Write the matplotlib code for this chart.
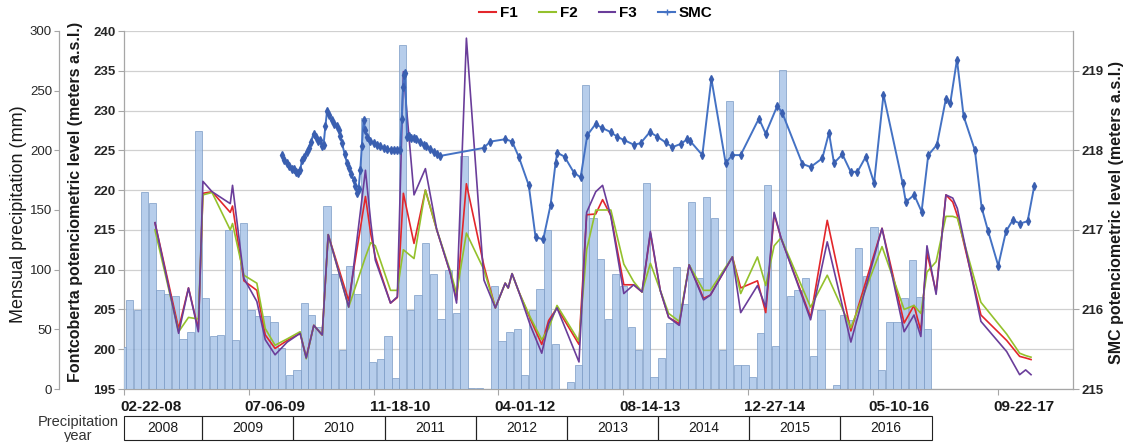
import numpy as np
import pandas as pd
import matplotlib
matplotlib.use("Agg")
import matplotlib.pyplot as plt
import matplotlib.dates as mdates
from matplotlib.lines import Line2D
from matplotlib.patches import Rectangle
from matplotlib.transforms import blended_transform_factory, ScaledTranslation

plt.rcParams["font.family"] = ["Liberation Sans", "DejaVu Sans"]

# ---------------------------------------------------------------- data
# Monthly precipitation (mm), one value per month from Feb 2008 to Dec 2016
precip_first_month = "2008-02"
precip_mm = [
    35, 75, 66, 165, 156, 83, 80, 78, 42, 48, 216,          # 2008 (Feb-Dec)
    76, 44, 45, 133, 41, 139, 66, 61, 61, 56, 34, 12,       # 2009
    16, 72, 62, 52, 153, 96, 33, 103, 80, 227, 23, 25,      # 2010
    44, 9, 288, 66, 79, 122, 96, 59, 100, 64, 195, 1,       # 2011
    1, 0, 86, 40, 48, 50, 12, 66, 84, 133, 38, 0,           # 2012
    6, 20, 255, 143, 109, 59, 96, 86, 52, 33, 173, 10,      # 2013
    26, 55, 102, 71, 157, 93, 161, 143, 33, 241, 20, 20,    # 2014
    10, 47, 171, 36, 267, 78, 83, 93, 28, 66, 0, 3,         # 2015
    62, 58, 118, 95, 136, 16, 56, 56, 76, 108, 77, 50,      # 2016
]

# Fontcoberta piezometers F1, F2, F3 (m a.s.l.), dates as decimal years
f_time = [
    2008.481, 2008.740, 2008.848, 2008.956, 2009.006, 2009.106, 2009.306, 2009.331,
    2009.456, 2009.598, 2009.690, 2009.798, 2009.931, 2010.073, 2010.140, 2010.223,
    2010.315, 2010.381, 2010.606, 2010.790, 2010.848, 2010.898, 2011.065, 2011.140,
    2011.206, 2011.323, 2011.448, 2011.573, 2011.723, 2011.790, 2011.898, 2012.090,
    2012.215, 2012.323, 2012.356, 2012.398, 2012.473, 2012.598, 2012.723, 2012.798,
    2012.890, 2013.131, 2013.215, 2013.315, 2013.390, 2013.481, 2013.623, 2013.731,
    2013.823, 2013.915, 2014.023, 2014.115, 2014.231, 2014.340, 2014.498, 2014.573,
    2014.815, 2014.906, 2015.090, 2015.181, 2015.273, 2015.348, 2015.673, 2015.856,
    2016.115, 2016.456, 2016.698, 2016.806, 2016.881, 2016.948, 2017.048, 2017.156,
    2017.231, 2017.281, 2017.540, 2017.823, 2017.965, 2018.031, 2018.090,
]
f1_level = [
    215.9, 202.6, 207.7, 202.5, 219.6, 219.8, 217.2, 218.0,
    208.6, 207.4, 201.8, 200.1, 201.1, 202.0, 199.0, 203.0,
    201.8, 214.4, 206.1, 219.2, 214.5, 211.6, 205.8, 206.5,
    219.6, 213.3, 220.0, 215.0, 209.5, 206.2, 220.8, 210.5,
    205.2, 208.3, 207.7, 209.5, 207.2, 203.8, 200.6, 203.6,
    205.2, 200.6, 216.9, 217.0, 218.8, 216.8, 208.1, 208.1,
    207.2, 214.6, 207.4, 204.0, 203.2, 210.6, 206.4, 206.8,
    211.6, 207.7, 208.6, 204.6, 217.0, 214.0, 204.0, 216.2,
    202.3, 215.2, 203.3, 205.5, 202.3, 212.1, 207.2, 219.4,
    218.5, 216.8, 204.3, 201.1, 199.1, 198.9, 198.7,
]
f2_level = [
    215.0, 202.2, 204.0, 203.8, 219.4, 219.7, 215.0, 215.8,
    209.3, 208.3, 202.6, 200.5, 201.3, 202.2, 198.8, 203.0,
    201.8, 214.4, 205.3, 211.6, 213.4, 213.0, 207.4, 207.4,
    212.5, 211.4, 220.0, 215.0, 209.8, 207.0, 214.6, 210.0,
    205.2, 208.3, 207.7, 209.5, 207.2, 204.0, 201.2, 202.6,
    205.5, 201.0, 212.5, 217.5, 217.5, 217.5, 210.7, 208.5,
    207.2, 210.8, 207.4, 204.5, 203.5, 210.6, 207.4, 207.4,
    211.6, 207.0, 211.6, 208.0, 213.0, 214.0, 205.3, 209.3,
    202.7, 212.9, 205.0, 205.5, 204.5, 209.7, 211.0, 216.7,
    216.7, 216.5, 205.9, 201.9, 199.5, 199.2, 199.0,
]
f3_level = [
    215.9, 202.0, 207.7, 202.2, 221.1, 219.8, 218.3, 220.6,
    208.9, 206.0, 201.2, 199.3, 200.9, 202.0, 198.9, 203.0,
    201.8, 214.4, 205.3, 222.5, 216.0, 211.2, 205.8, 206.6,
    234.9, 219.4, 222.7, 215.0, 209.5, 205.8, 239.1, 208.7,
    205.2, 208.3, 207.7, 209.5, 207.2, 203.0, 199.5, 203.2,
    205.2, 198.4, 217.2, 219.8, 220.6, 216.7, 207.0, 208.1,
    207.2, 214.8, 207.4, 204.0, 203.0, 210.6, 206.2, 206.8,
    211.6, 204.6, 208.0, 205.3, 217.2, 214.0, 203.7, 213.5,
    200.9, 215.2, 202.2, 204.3, 201.6, 213.0, 206.9, 219.4,
    219.0, 217.7, 203.5, 199.7, 196.8, 197.4, 196.8,
]

# SMC piezometer (m a.s.l.), dates as decimal years
# (near-daily logger record 2009-2011, then periodic readings)
smc_time = [
    2009.873, 2009.900, 2009.928, 2009.955, 2009.980, 2010.001, 2010.025, 2010.050,
    2010.074, 2010.093, 2010.120, 2010.145, 2010.166, 2010.190, 2010.220, 2010.245,
    2010.270, 2010.294, 2010.312, 2010.330, 2010.350, 2010.368, 2010.395, 2010.422,
    2010.450, 2010.475, 2010.495, 2010.515, 2010.532, 2010.560, 2010.587, 2010.610,
    2010.635, 2010.660, 2010.680, 2010.697, 2010.715, 2010.733, 2010.750, 2010.769,
    2010.790, 2010.807, 2010.840, 2010.879, 2010.920, 2010.955, 2010.989, 2011.030,
    2011.070, 2011.105, 2011.136, 2011.172, 2011.188, 2011.202, 2011.215, 2011.227,
    2011.246, 2011.270, 2011.295, 2011.318, 2011.350, 2011.385, 2011.428, 2011.460,
    2011.500, 2011.538, 2011.575, 2011.611,
    2012.087, 2012.160, 2012.325, 2012.399, 2012.471, 2012.581, 2012.655, 2012.739,
    2012.819, 2012.874, 2012.893, 2012.973, 2013.075, 2013.149, 2013.222, 2013.313,
    2013.387, 2013.478, 2013.551, 2013.624, 2013.734, 2013.807, 2013.909, 2013.991,
    2014.082, 2014.155, 2014.247, 2014.320, 2014.349, 2014.485, 2014.584, 2014.741,
    2014.814, 2014.905, 2015.106, 2015.180, 2015.308, 2015.363, 2015.583, 2015.674,
    2015.802, 2015.875, 2015.930, 2016.022, 2016.113, 2016.187, 2016.278, 2016.369,
    2016.472, 2016.681, 2016.717, 2016.808, 2016.889, 2016.962, 2017.057, 2017.156,
    2017.203, 2017.277, 2017.350, 2017.474, 2017.548, 2017.620, 2017.730, 2017.815,
    2017.888, 2017.972, 2018.053, 2018.125,
]
smc_level = [
    217.94, 217.88, 217.84, 217.80, 217.76, 217.77, 217.73, 217.72,
    217.75, 217.88, 217.92, 217.98, 218.03, 218.10, 218.21, 218.17,
    218.12, 218.13, 218.05, 218.07, 218.30, 218.49, 218.44, 218.38,
    218.33, 218.30, 218.26, 218.18, 218.09, 217.96, 217.84, 217.78,
    217.70, 217.63, 217.55, 217.46, 217.52, 217.75, 218.05, 218.38,
    218.25, 218.17, 218.12, 218.09, 218.07, 218.05, 218.03, 218.02,
    218.01, 218.00, 218.00, 218.00, 218.40, 218.80, 218.95, 218.97,
    218.17, 218.18, 218.16, 218.15, 218.14, 218.10, 218.07, 218.05,
    218.02, 217.98, 217.95, 217.93,
    218.03, 218.11, 218.14, 218.11, 217.92, 217.56, 216.91, 216.88,
    217.31, 217.84, 217.97, 217.92, 217.72, 217.66, 218.19, 218.33,
    218.28, 218.23, 218.17, 218.13, 218.07, 218.09, 218.23, 218.17,
    218.10, 218.04, 218.08, 218.14, 218.12, 217.94, 218.90, 217.84,
    217.94, 217.94, 218.40, 218.21, 218.56, 218.47, 217.83, 217.79,
    217.90, 218.22, 217.84, 217.95, 217.73, 217.73, 217.92, 217.59,
    218.70, 217.59, 217.35, 217.44, 217.23, 217.94, 218.07, 218.65,
    218.59, 219.14, 218.43, 218.00, 217.28, 216.98, 216.55, 216.98,
    217.12, 217.08, 217.11, 217.55,
]

tick_dates = ["2008-02-22", "2009-07-06", "2010-11-18", "2012-04-01",
              "2013-08-14", "2014-12-27", "2016-05-10", "2017-09-22"]
x_limits = ("2008-02-22", "2018-07-21")
precip_years = [2008, 2009, 2010, 2011, 2012, 2013, 2014, 2015, 2016]

series_labels = ["F1", "F2", "F3", "SMC"]
series_colors = ["#e3262b", "#94c12c", "#6a3d9a", "#4472c4"]


def decimal_year_to_date(t):
    year = int(np.floor(t))
    start = pd.Timestamp(year=year, month=1, day=1)
    days = 366 if pd.Timestamp(year=year, month=12, day=31).dayofyear == 366 else 365
    return start + pd.Timedelta(days=(t - year) * days)


precip_dates = (pd.period_range(precip_first_month, periods=len(precip_mm), freq="M")
                .to_timestamp() + pd.Timedelta(days=14))
f_dates = [decimal_year_to_date(t) for t in f_time]
smc_dates = [decimal_year_to_date(t) for t in smc_time]

# ---------------------------------------------------------------- layout
W, H = 1132, 442
fig = plt.figure(figsize=(W / 100, H / 100), dpi=100)
left, right, top, bottom = 124, 1073, 31, 389
pos = [left / W, 1 - bottom / H, (right - left) / W, (bottom - top) / H]

grey = "#a6a6a6"
axF = fig.add_axes(pos)
axF.set_xlim(pd.Timestamp(x_limits[0]), pd.Timestamp(x_limits[1]))
axF.set_ylim(195, 240)
axF.set_yticks(np.arange(195, 241, 5))
axF.yaxis.grid(True, color="#d0d0d0", linewidth=0.9)
axF.set_axisbelow(True)
for side in ("top", "right"):
    axF.spines[side].set_visible(False)
for side in ("left", "bottom"):
    axF.spines[side].set_color(grey)
    axF.spines[side].set_linewidth(0.9)
axF.tick_params(axis="y", colors="#262626", length=4, width=0.8, labelsize=9.5, pad=2)
for lbl in axF.get_yticklabels():
    lbl.set_fontweight("bold")
axF.tick_params(axis="y", color=grey)

tick_ts = [pd.Timestamp(d) for d in tick_dates]
axF.set_xticks(tick_ts)
axF.xaxis.set_major_formatter(mdates.DateFormatter("%m-%d-%y"))
axF.tick_params(axis="x", length=4, width=0.8, color=grey, labelsize=11, pad=4,
                labelcolor="#1a1a1a")
shift = ScaledTranslation(-4 / 100, 0, fig.dpi_scale_trans)
for lbl in axF.get_xticklabels():
    lbl.set_fontweight("bold")
    lbl.set_horizontalalignment("left")
    lbl.set_transform(lbl.get_transform() + shift)

# precipitation bars on an outer left axis
axP = axF.twinx()
axP.set_ylim(0, 300)
axP.set_yticks(np.arange(0, 301, 50))
axP.yaxis.tick_left()
axP.spines["left"].set_visible(True)
axP.spines["left"].set_position(("outward", 65 * 0.72))
axP.spines["left"].set_color(grey)
axP.spines["left"].set_linewidth(0.9)
for side in ("right", "top", "bottom"):
    axP.spines[side].set_visible(False)
axP.tick_params(axis="y", length=3.5, width=0.8, color=grey, labelsize=9.5,
                labelcolor="#262626", pad=1.5)
axP.bar(precip_dates, precip_mm, width=29, color="#a9c5e8", alpha=0.85,
        edgecolor="#7d9cc6", linewidth=0.6, align="center")

# Fontcoberta piezometers
axL = axF.twinx()
axL.set_ylim(195, 240)
axL.set_yticks([])
for s in axL.spines.values():
    s.set_visible(False)
for vals, col in zip([f1_level, f2_level, f3_level], series_colors[:3]):
    axL.plot(f_dates, vals, color=col, linewidth=1.2, solid_joinstyle="round")

# SMC piezometer on the right axis
axS = axF.twinx()
axS.set_ylim(215, 219.5)
axS.set_yticks([215, 216, 217, 218, 219])
for side in ("left", "top", "bottom"):
    axS.spines[side].set_visible(False)
axS.spines["right"].set_color(grey)
axS.spines["right"].set_linewidth(0.9)
axS.tick_params(axis="y", length=4, width=0.8, color=grey, labelsize=9.5,
                labelcolor="#262626", pad=2)
for lbl in axS.get_yticklabels():
    lbl.set_fontweight("bold")
axS.plot(smc_dates, smc_level, color=series_colors[3], linewidth=1.4,
         marker="d", markersize=3.6, markerfacecolor="#3a5fb0",
         markeredgecolor="#3a5fb0")

# axis titles
fig.text(19 / W, 1 - 214 / H, "Mensual precipitation (mm)", rotation=90,
         ha="center", va="center", fontsize=13, color="#1a1a1a")
fig.text(76 / W, 1 - 202 / H, "Fontcoberta potenciometric level (meters a.s.l.)",
         rotation=90, ha="center", va="center", fontsize=11.5, fontweight="bold",
         color="#1a1a1a")
fig.text(1117 / W, 1 - 212 / H, "SMC potenciometric level (meters a.s.l.)",
         rotation=90, ha="center", va="center", fontsize=11.5, fontweight="bold",
         color="#1a1a1a")

# legend
handles = [Line2D([], [], color=c, linewidth=1.5) for c in series_colors[:3]]
handles.append(Line2D([], [], color=series_colors[3], linewidth=1.5, marker="+",
                      markersize=5))
fig.legend(handles, series_labels, loc="center", bbox_to_anchor=(596 / W, 1 - 13 / H),
           ncol=4, frameon=False, prop={"weight": "bold", "size": 11},
           handlelength=1.1, handletextpad=0.25, columnspacing=1.4)

# precipitation-year table under the date axis
trans = blended_transform_factory(axF.transData, fig.transFigure)
xmin = pd.Timestamp(x_limits[0])
y0, y1 = 1 - 440 / H, 1 - 416 / H
for yr in precip_years:
    a = max(pd.Timestamp(year=yr, month=1, day=1), xmin)
    b = pd.Timestamp(year=yr + 1, month=1, day=1)
    xa, xb = mdates.date2num(a), mdates.date2num(b)
    axF.add_patch(Rectangle((xa, y0), xb - xa, y1 - y0, transform=trans,
                            facecolor="none", edgecolor="#222222", linewidth=0.8,
                            clip_on=False))
    axF.text((xa + xb) / 2, (y0 + y1) / 2, str(yr), transform=trans, ha="center",
             va="center", fontsize=10, color="#1a1a1a")
fig.text(78 / W, 1 - 429 / H, "Precipitation\nyear", ha="center", va="center",
         fontsize=10.5, linespacing=0.95, color="#333333")

fig.savefig("out.png", dpi=100)
